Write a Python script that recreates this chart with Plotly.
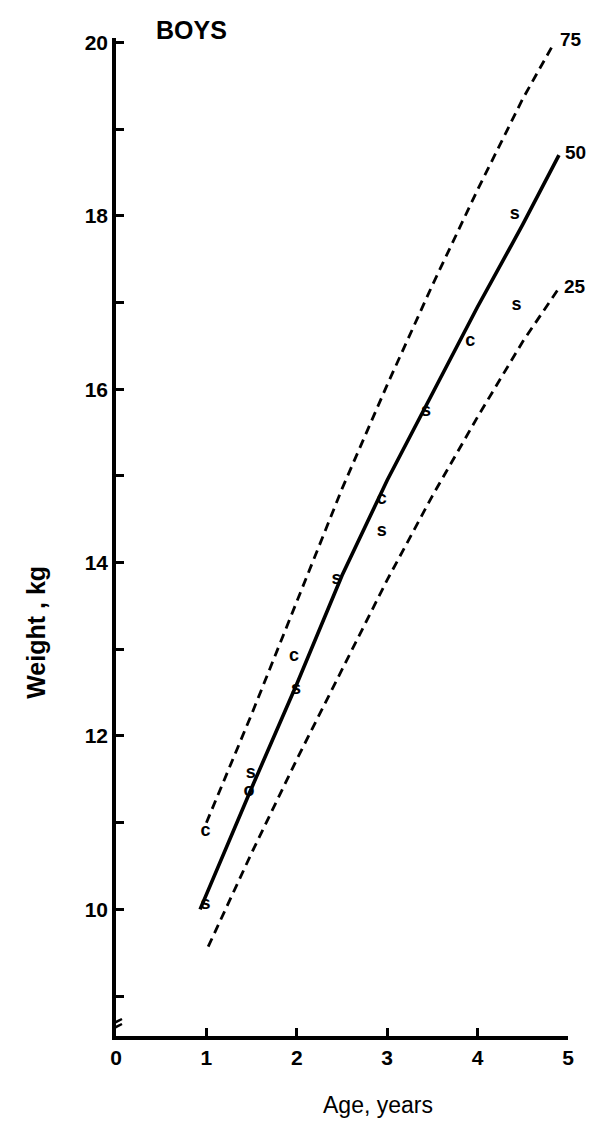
import plotly.graph_objects as go

# Percentile curves (age in years, weight in kg)
age_p75 = [1.0, 1.5, 2.0, 2.5, 3.0, 3.5, 4.0, 4.5, 4.85]
wt_p75 = [11.0, 12.25, 13.55, 14.85, 16.05, 17.2, 18.3, 19.35, 20.0]

age_p50 = [0.93, 1.5, 2.0, 2.5, 3.0, 3.5, 4.0, 4.5, 4.9]
wt_p50 = [10.0, 11.4, 12.6, 13.85, 14.95, 15.95, 16.95, 17.9, 18.7]

age_p25 = [1.02, 1.5, 2.0, 2.5, 3.0, 3.5, 4.0, 4.5, 4.89]
wt_p25 = [9.57, 10.65, 11.73, 12.77, 13.8, 14.77, 15.68, 16.55, 17.15]

# Observed points labelled by letter
age_c = [0.99, 1.97, 2.94, 3.92]
wt_c = [10.9, 12.92, 14.73, 16.55]

age_s = [0.99, 1.49, 1.99, 2.44, 2.94, 3.43, 4.41, 4.43]
wt_s = [10.06, 11.57, 12.54, 13.81, 14.36, 15.74, 18.02, 16.96]

age_o = [1.47]
wt_o = [11.36]

x_ticks = [0, 1, 2, 3, 4, 5]
x_ticklabels = ["0", "1", "2", "3", "4", "5"]
y_ticks = [9, 10, 11, 12, 13, 14, 15, 16, 17, 18, 19, 20]
y_ticklabels = ["", "10", "", "12", "", "14", "", "16", "", "18", "", "20"]

FONT = "Liberation Sans"

fig = go.Figure()
fig.add_trace(go.Scatter(x=age_p75, y=wt_p75, mode="lines",
                         line=dict(color="black", width=2.8, dash="9px,6px")))
fig.add_trace(go.Scatter(x=age_p50, y=wt_p50, mode="lines",
                         line=dict(color="black", width=3.6)))
fig.add_trace(go.Scatter(x=age_p25, y=wt_p25, mode="lines",
                         line=dict(color="black", width=2.8, dash="9px,6px")))

letter_font = dict(family=FONT, size=18, color="black", weight="bold")
for xs, ys, letter in [(age_c, wt_c, "c"), (age_s, wt_s, "s"), (age_o, wt_o, "o")]:
    fig.add_trace(go.Scatter(x=xs, y=ys, mode="text", text=[letter] * len(xs),
                             textposition="middle center", textfont=letter_font,
                             cliponaxis=False))

for xs, ys, lab in [(age_p75, wt_p75, "75"), (age_p50, wt_p50, "50"), (age_p25, wt_p25, "25")]:
    fig.add_annotation(x=xs[-1], y=ys[-1], text=lab, showarrow=False,
                       xanchor="left", yanchor="middle", xshift=4, yshift=3,
                       font=dict(family=FONT, size=19, color="black", weight="bold"))

fig.add_annotation(xref="paper", yref="paper", x=0.085, y=1.0, yshift=8,
                   text="BOYS", showarrow=False, xanchor="left", yanchor="middle",
                   font=dict(family=FONT, size=25, color="black", weight="bold"))
fig.add_annotation(xref="paper", yref="paper", x=0.58, y=0, yshift=-69,
                   text="Age, years", showarrow=False, xanchor="center", yanchor="middle",
                   font=dict(family=FONT, size=23, color="black"))
fig.add_annotation(xref="paper", yref="paper", x=0, xshift=-80, y=0.404,
                   text="Weight , kg", showarrow=False, textangle=-90,
                   xanchor="center", yanchor="middle",
                   font=dict(family=FONT, size=25, color="black", weight="bold"))

# axis break mark
fig.add_shape(type="path", xref="x", yref="y", xsizemode="pixel", ysizemode="pixel",
              xanchor=0, yanchor=8.54,
              path="M -6,6 L 6,12 M -6,11 L 6,17",
              line=dict(color="black", width=2.5))

fig.update_xaxes(range=[0, 5], showgrid=False, zeroline=False,
                 showline=True, linecolor="black", linewidth=3.5,
                 ticks="inside", ticklen=8, tickwidth=2.5, tickcolor="black",
                 tickvals=x_ticks, ticktext=x_ticklabels,
                 tickfont=dict(family=FONT, size=21, color="black", weight="bold"))
fig.update_yaxes(range=[8.54, 20.05], showgrid=False, zeroline=False,
                 showline=True, linecolor="black", linewidth=3.5,
                 ticks="inside", ticklen=8, tickwidth=2.5, tickcolor="black",
                 tickvals=y_ticks, ticktext=y_ticklabels,
                 tickfont=dict(family=FONT, size=21, color="black", weight="bold"))

fig.update_layout(width=600, height=1141, showlegend=False,
                  paper_bgcolor="white", plot_bgcolor="white",
                  margin=dict(l=108, r=40, t=30, b=113))

fig.write_html("out.html")
